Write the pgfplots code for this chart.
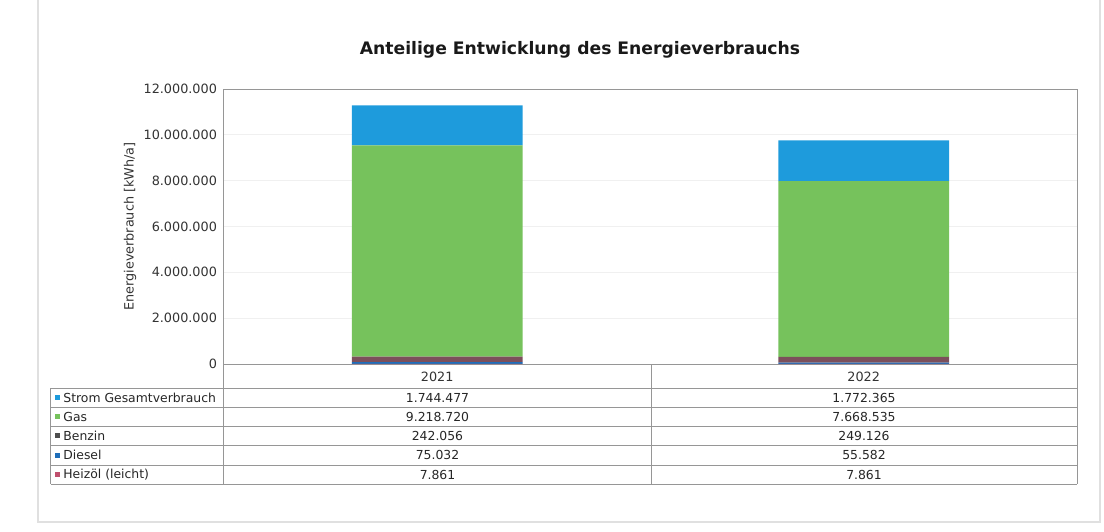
\documentclass[border=0pt]{standalone}
\usepackage{pgfplots}
\pgfplotsset{compat=1.18}
\usepackage{fontspec}
\setmainfont{DejaVu Sans}
\definecolor{cstrom}{RGB}{30,155,220}
\definecolor{cgas}{RGB}{118,194,92}
\definecolor{cbenzin}{RGB}{78,78,78}
\definecolor{cdiesel}{RGB}{31,110,185}
\definecolor{cheiz}{RGB}{192,80,110}
\definecolor{cline}{RGB}{150,150,150}
\begin{document}
\begin{tikzpicture}[x=1pt,y=1pt]
\useasboundingbox (-112,-83.5) rectangle (440,182);
% outer chart frame
\draw[black!12, line width=0.6pt] (-93,182) -- (-93,-79) -- (438,-79) -- (438,182);
\begin{axis}[
  name=ax, at={(0,0)}, anchor=south west,
  scale only axis, width=426.5pt, height=137.5pt,
  xmin=-0.5, xmax=1.5, ymin=0, ymax=12000000,
  ybar stacked, bar width=0.4,
  xtick={0,1}, xticklabels={2021,2022},
  ytick={0,2000000,4000000,6000000,8000000,10000000,12000000},
  scaled y ticks=false,
  yticklabel style={/pgf/number format/.cd, fixed, 1000 sep={.}, assume math mode=true},
  tick label style={font=\fontsize{6.4}{7}\selectfont, text=black!80},
  xticklabel style={yshift=-0.5pt},
  major tick length=0pt,
  ymajorgrids, grid style={black!6, line width=0.4pt},
  axis line style={cline, line width=0.5pt},
  ylabel={Energieverbrauch [kWh/a]},
  every axis y label/.style={at={(rel axis cs:0,0.5)}, anchor=center, xshift=-47pt, rotate=90, font=\fontsize{6.4}{7}\selectfont, text=black!80},
  clip=false,
]
\addplot[fill=cheiz, draw=none] coordinates {(0,7861) (1,7861)};
\addplot[fill=cdiesel, draw=none] coordinates {(0,75032) (1,55582)};
\addplot[fill=cbenzin!60!cheiz, draw=none] coordinates {(0,242056) (1,249126)};
\addplot[fill=cgas, draw=none] coordinates {(0,9218720) (1,7668535)};
\addplot[fill=cstrom, draw=none] coordinates {(0,1744477) (1,1772365)};
\end{axis}
% title
\node[font=\bfseries\fontsize{8.6}{10}\selectfont, text=black!90] at (178,157) {Anteilige Entwicklung des Energieverbrauchs};
% data table
\begin{scope}[cline, line width=0.5pt]
\draw (0,0) -- (0,-60);
\draw (213.5,0) -- (213.5,-60);
\draw (426.5,0) -- (426.5,-60);
\draw (-86.5,-12) -- (-86.5,-60);
\foreach \y in {-12,-21.5,-31,-40.75,-50.5,-60} \draw (-86.5,\y) -- (426.5,\y);
\end{scope}
\begin{scope}[every node/.style={font=\fontsize{6.2}{7}\selectfont, text=black!85, inner sep=0pt}]
\fill[cstrom]  (-84.5,-18.1) rectangle +(2.6,2.6);
\fill[cgas]    (-84.5,-27.6) rectangle +(2.6,2.6);
\fill[cbenzin] (-84.5,-37.2) rectangle +(2.6,2.6);
\fill[cdiesel] (-84.5,-46.9) rectangle +(2.6,2.6);
\fill[cheiz]   (-84.5,-56.6) rectangle +(2.6,2.6);
\node[anchor=west] at (-80.5,-16.75) {Strom Gesamtverbrauch};
\node[anchor=west] at (-80.5,-26.25) {Gas};
\node[anchor=west] at (-80.5,-35.9) {Benzin};
\node[anchor=west] at (-80.5,-45.6) {Diesel};
\node[anchor=west] at (-80.5,-55.25) {Heizöl (leicht)};
\node at (106.75,-16.75) {1.744.477};
\node at (106.75,-26.25) {9.218.720};
\node at (106.75,-35.9) {242.056};
\node at (106.75,-45.6) {75.032};
\node at (106.75,-55.25) {7.861};
\node at (320,-16.75) {1.772.365};
\node at (320,-26.25) {7.668.535};
\node at (320,-35.9) {249.126};
\node at (320,-45.6) {55.582};
\node at (320,-55.25) {7.861};
\end{scope}
\end{tikzpicture}
\end{document}
